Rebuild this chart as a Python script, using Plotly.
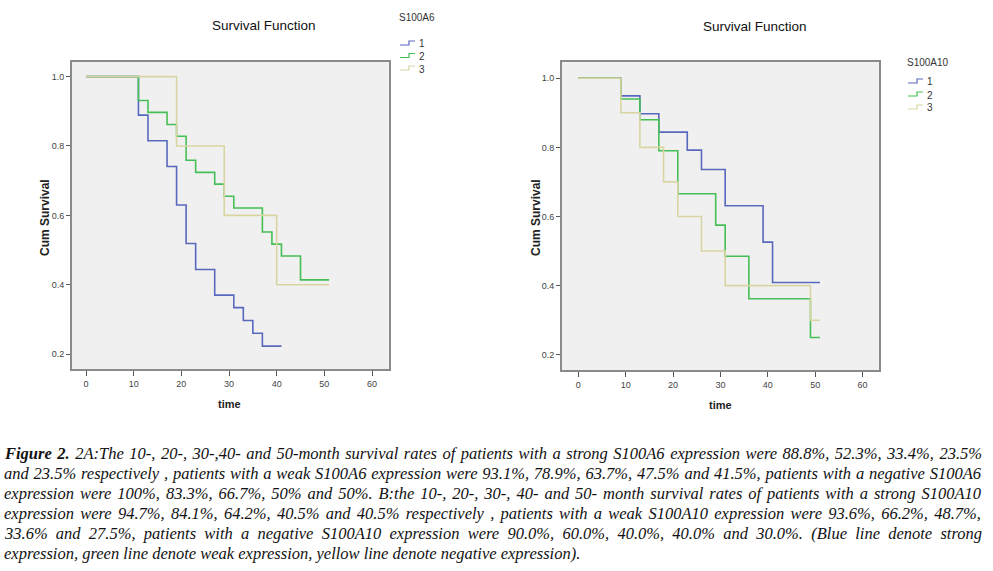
import plotly.graph_objects as go

# ---- data ----
a6_strong_t = [0, 11, 13, 17, 19, 21, 23, 27, 31, 33, 35, 37, 41]
a6_strong_s = [1.0, 0.889, 0.815, 0.741, 0.630, 0.519, 0.444, 0.370, 0.334, 0.297, 0.260, 0.223, 0.223]
a6_weak_t = [0, 11, 13, 17, 19, 21, 23, 27, 29, 31, 37, 39, 41, 45, 51]
a6_weak_s = [1.0, 0.931, 0.897, 0.862, 0.828, 0.759, 0.724, 0.690, 0.655, 0.621, 0.552, 0.517, 0.483, 0.414, 0.414]
a6_neg_t = [0, 19, 29, 40, 51]
a6_neg_s = [1.0, 0.8, 0.6, 0.4, 0.4]

a10_strong_t = [0, 9, 13, 17, 23, 26, 31, 39, 41, 51]
a10_strong_s = [1.0, 0.949, 0.897, 0.844, 0.792, 0.736, 0.631, 0.526, 0.409, 0.409]
a10_weak_t = [0, 9, 13, 17, 21, 29, 31, 36, 49, 51]
a10_weak_s = [1.0, 0.940, 0.880, 0.790, 0.666, 0.575, 0.485, 0.362, 0.250, 0.250]
a10_neg_t = [0, 9, 13, 18, 21, 26, 31, 49, 51]
a10_neg_s = [1.0, 0.9, 0.8, 0.7, 0.6, 0.5, 0.4, 0.3, 0.3]

group_labels = ["1", "2", "3"]
x_ticks = [0, 10, 20, 30, 40, 50, 60]
y_ticks = [0.2, 0.4, 0.6, 0.8, 1.0]

caption_lines = [
    "<b>Figure 2.</b> 2A:The 10-, 20-, 30-,40- and 50-month survival rates of patients with a strong S100A6 expression were 88.8%, 52.3%, 33.4%, 23.5%",
    "and 23.5% respectively , patients with a weak S100A6 expression were 93.1%, 78.9%, 63.7%, 47.5% and 41.5%, patients with a negative S100A6",
    "expression were 100%, 83.3%, 66.7%, 50% and 50%. B:the 10-, 20-, 30-, 40- and 50- month survival rates of patients with a strong S100A10",
    "expression were 94.7%, 84.1%, 64.2%, 40.5% and 40.5% respectively , patients with a weak S100A10 expression were 93.6%, 66.2%, 48.7%,",
    "33.6% and 27.5%, patients with a negative S100A10 expression were 90.0%, 60.0%, 40.0%, 40.0% and 30.0%. (Blue line denote strong",
    "expression, green line denote weak expression, yellow line denote negative expression).",
]

colors = ["#5868bd", "#45bf55", "#d9d5a3"]

W, H = 993, 571
fig = go.Figure()

left = [(a6_strong_t, a6_strong_s), (a6_weak_t, a6_weak_s), (a6_neg_t, a6_neg_s)]
right = [(a10_strong_t, a10_strong_s), (a10_weak_t, a10_weak_s), (a10_neg_t, a10_neg_s)]

for i, (t, s) in enumerate(left):
    fig.add_trace(go.Scatter(x=t, y=s, mode="lines", line=dict(color=colors[i], width=1.6, shape="hv"),
                             xaxis="x", yaxis="y", showlegend=False, hoverinfo="skip"))
for i, (t, s) in enumerate(right):
    fig.add_trace(go.Scatter(x=t, y=s, mode="lines", line=dict(color=colors[i], width=1.6, shape="hv"),
                             xaxis="x2", yaxis="y2", showlegend=False, hoverinfo="skip"))

def px(x):
    return x / W

def py(y):
    return 1 - y / H

tickfont = dict(family="Liberation Sans, Arial", size=9, color="#444")
axis_common = dict(showgrid=False, zeroline=False, showline=True, linecolor="#8a8a8a", linewidth=1.5,
                   mirror=True, ticks="outside", tickcolor="#555", tickfont=tickfont)

fig.update_layout(
    width=W, height=H, margin=dict(l=0, r=0, t=0, b=0),
    paper_bgcolor="white", plot_bgcolor="#f0f0f0",
    xaxis=dict(domain=[px(71.7), px(388.7)], range=[-3.0, 63.5], tickvals=x_ticks, ticklen=5,
               anchor="y", **axis_common),
    yaxis=dict(domain=[py(369), py(61.7)], range=[0.157, 1.043], tickvals=y_ticks, tickformat=".1f",
               ticklen=4, anchor="x", **axis_common),
    xaxis2=dict(domain=[px(561.7), px(878.7)], range=[-3.5, 63.4], tickvals=x_ticks, ticklen=5,
                anchor="y2", **axis_common),
    yaxis2=dict(domain=[py(370), py(62.3)], range=[0.156, 1.046], tickvals=y_ticks, tickformat=".1f",
                ticklen=4, anchor="x2", **axis_common),
)

ann = []
shapes = []
sans = "Liberation Sans, Arial"

def text(x, y, s, size, color="#222", bold=False, angle=0, xanchor="center", family=sans, italic=False,
         align="center"):
    ann.append(dict(x=px(x), y=py(y), xref="paper", yref="paper", text=("<b>%s</b>" % s) if bold else s,
                    showarrow=False, xanchor=xanchor, yanchor="middle", textangle=angle, align=align,
                    font=dict(family=family, size=size, color=color, style="italic" if italic else "normal")))

# titles
text(264, 25, "Survival Function", 13.5, "#111")
text(755, 26, "Survival Function", 13.5, "#111")
# axis titles
text(229, 404, "time", 11, "#222", bold=True)
text(720, 405, "time", 11, "#222", bold=True)
text(45, 218, "Cum Survival", 12, "#222", bold=True, angle=-90)
text(536, 218, "Cum Survival", 12, "#222", bold=True, angle=-90)

# legends
def legend(x0, ytitle, title, ys):
    text(x0 - 3, ytitle, title, 10, "#333", xanchor="left")
    for i, yy in enumerate(ys):
        gx0, gx1 = x0, x0 + 15
        path = "M %f %f L %f %f L %f %f L %f %f" % (
            px(gx0), py(yy + 2), px(gx0 + 9), py(yy + 2), px(gx0 + 9), py(yy - 2), px(gx1), py(yy - 2))
        shapes.append(dict(type="path", path=path, xref="paper", yref="paper",
                           line=dict(color=colors[i], width=1.2)))
        text(gx1 + 2, yy + 1, group_labels[i], 10, "#333", xanchor="left")

legend(400, 18, "S100A6", [43, 55.5, 68])
legend(908, 62, "S100A10", [81, 94, 107])

# caption
for k, line in enumerate(caption_lines):
    text(2, 453.5 + 20 * k, line, 16.5, "#111", xanchor="left", family="Liberation Serif, Times New Roman",
         italic=True, align="left")

fig.update_layout(annotations=ann, shapes=shapes)

n_caption = len(caption_lines)
justify_js = """
document.body.style.margin='0';
var t = document.querySelectorAll('.annotation-text');
var n = t.length;
for (var i = n - %d; i < n - 1; i++) {
  var el = t[i];
  var w = el.getComputedTextLength();
  var s = (el.textContent.match(/ /g) || []).length;
  if (s > 0 && w < 977) { el.style.wordSpacing = ((977 - w) / s) + 'px'; }
}
""" % n_caption
fig.write_html("out.html", config={"displayModeBar": False}, post_script=justify_js)
